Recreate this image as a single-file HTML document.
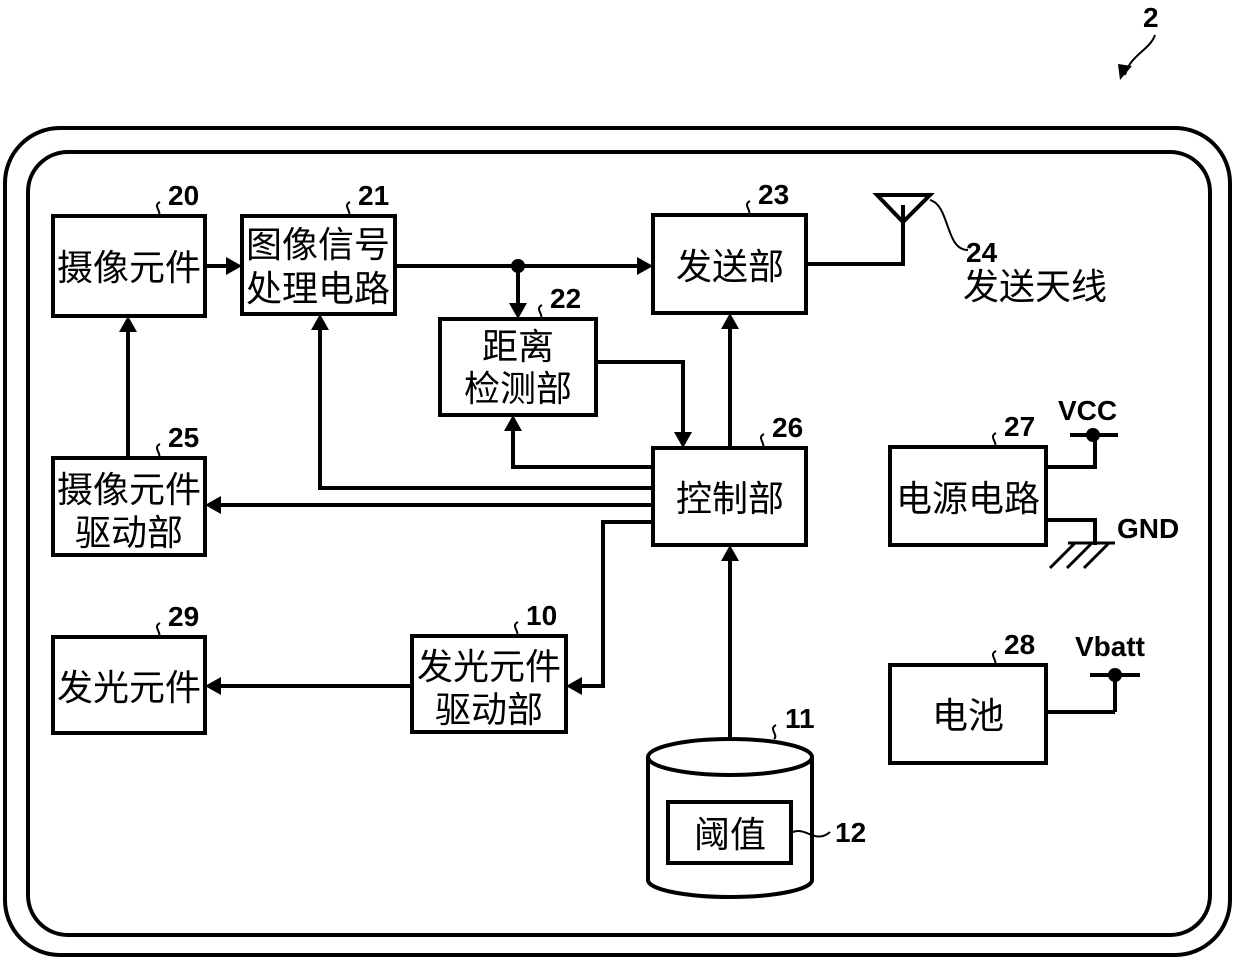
<!DOCTYPE html>
<html><head><meta charset="utf-8"><style>
html,body{margin:0;padding:0;background:#fff;}
svg text{font-family:"Liberation Sans","Noto Sans CJK SC",sans-serif;fill:#000;}
.b{font-size:36px;}
.n{font-size:28px;font-weight:bold;}
</style></head><body>
<svg width="1240" height="963" viewBox="0 0 1240 963" xmlns="http://www.w3.org/2000/svg">
<g fill="none" stroke="#000" stroke-width="4">
<rect x="5" y="128" width="1225" height="827" rx="55"/>
<rect x="28" y="152" width="1182" height="783" rx="40"/>
<rect x="53" y="216" width="152" height="100"/>
<rect x="242" y="216" width="153" height="98"/>
<rect x="440" y="319" width="156" height="96"/>
<rect x="653" y="215" width="153" height="98"/>
<rect x="653" y="448" width="153" height="97"/>
<rect x="53" y="458" width="152" height="97"/>
<rect x="53" y="637" width="152" height="96"/>
<rect x="412" y="636" width="154" height="96"/>
<rect x="890" y="447" width="156" height="98"/>
<rect x="890" y="665" width="156" height="98"/>
<path d="M648 757 L648 880 A82 17 0 0 0 812 880 L812 757"/>
<ellipse cx="730" cy="757" rx="82" ry="18"/>
<rect x="668" y="802" width="123" height="61"/>
<path d="M205 266 H228"/>
<path d="M395 266 H638"/>
<path d="M518 266 V304"/>
<path d="M596 362 H683 V433"/>
<path d="M653 467 H513 V430"/>
<path d="M653 488 H320 V329"/>
<path d="M653 505 H220"/>
<path d="M653 522 H603 V686 H581"/>
<path d="M412 686 H220"/>
<path d="M128 458 V331"/>
<path d="M730 448 V328"/>
<path d="M730 738 V560"/>
<path d="M806 264 H903 V205"/>
<path d="M877 195 H930 L903 222 Z"/>
<path d="M1046 467 H1095 V435"/>
<path d="M1070 435 H1118"/>
<path d="M1046 520 H1095 V545"/>
<path d="M1115 712 H1046 M1115 712 V675 M1090 675 H1140"/>
</g>
<g fill="none" stroke="#000" stroke-width="2">
<path d="M1068 543 H1115 M1075 543 L1050 568 M1092 543 L1067 568 M1109 543 L1084 568" stroke-width="3"/>
<path d="M930 200 C950 205 945 250 968 250"/>
<path d="M791 833 C805 825 815 845 830 832"/>
<path d="M158 216 c5-4 -6-10 2-14 M348 216 c5-4 -6-10 2-14 M540 319 c5-4 -6-10 2-14 M748 215 c5-4 -6-10 2-14 M762 448 c5-4 -6-10 2-14 M158 458 c5-4 -6-10 2-14 M158 637 c5-4 -6-10 2-14 M516 636 c5-4 -6-10 2-14 M994 447 c5-4 -6-10 2-14 M994 665 c5-4 -6-10 2-14 M774 739 c5-4 -6-10 2-14"/>
<path d="M1155 35 C1150 50 1130 55 1125 75"/>
</g>
<g fill="#000">
<circle cx="518" cy="266" r="7"/>
<circle cx="1093" cy="435" r="7"/>
<circle cx="1115" cy="675" r="7"/>
<path d="M242 266 l-16 -9 v18 z"/>
<path d="M653 266 l-16 -9 v18 z"/>
<path d="M518 319 l-9 -16 h18 z"/>
<path d="M683 448 l-9 -16 h18 z"/>
<path d="M513 415 l-9 16 h18 z"/>
<path d="M320 314 l-9 16 h18 z"/>
<path d="M205 505 l16 -9 v18 z"/>
<path d="M566 686 l16 -9 v18 z"/>
<path d="M205 686 l16 -9 v18 z"/>
<path d="M128 316 l-9 16 h18 z"/>
<path d="M730 313 l-9 16 h18 z"/>
<path d="M730 545 l-9 16 h18 z"/>
<path d="M1120 80 l12 -14 l-14 -2 z"/>
</g>
<g class="b">
<text x="129" y="280" text-anchor="middle">摄像元件</text>
<text x="318" y="257" text-anchor="middle">图像信号</text>
<text x="318" y="301" text-anchor="middle">处理电路</text>
<text x="518" y="359" text-anchor="middle">距离</text>
<text x="518" y="401" text-anchor="middle">检测部</text>
<text x="730" y="279" text-anchor="middle">发送部</text>
<text x="730" y="511" text-anchor="middle">控制部</text>
<text x="129" y="502" text-anchor="middle">摄像元件</text>
<text x="129" y="545" text-anchor="middle">驱动部</text>
<text x="129" y="700" text-anchor="middle">发光元件</text>
<text x="489" y="679" text-anchor="middle">发光元件</text>
<text x="489" y="722" text-anchor="middle">驱动部</text>
<text x="968" y="511" text-anchor="middle">电源电路</text>
<text x="968" y="728" text-anchor="middle">电池</text>
<text x="730" y="847" text-anchor="middle">阈值</text>
<text x="963" y="299">发送天线</text>
</g>
<g class="n">
<text x="168" y="205">20</text>
<text x="358" y="205">21</text>
<text x="550" y="308">22</text>
<text x="758" y="204">23</text>
<text x="966" y="262">24</text>
<text x="772" y="437">26</text>
<text x="168" y="447">25</text>
<text x="168" y="626">29</text>
<text x="526" y="625">10</text>
<text x="1004" y="436">27</text>
<text x="1004" y="654">28</text>
<text x="785" y="728">11</text>
<text x="835" y="842">12</text>
<text x="1143" y="27">2</text>
<text x="1058" y="420">VCC</text>
<text x="1117" y="538">GND</text>
<text x="1075" y="656">Vbatt</text>
</g>
</svg>
</body></html>
